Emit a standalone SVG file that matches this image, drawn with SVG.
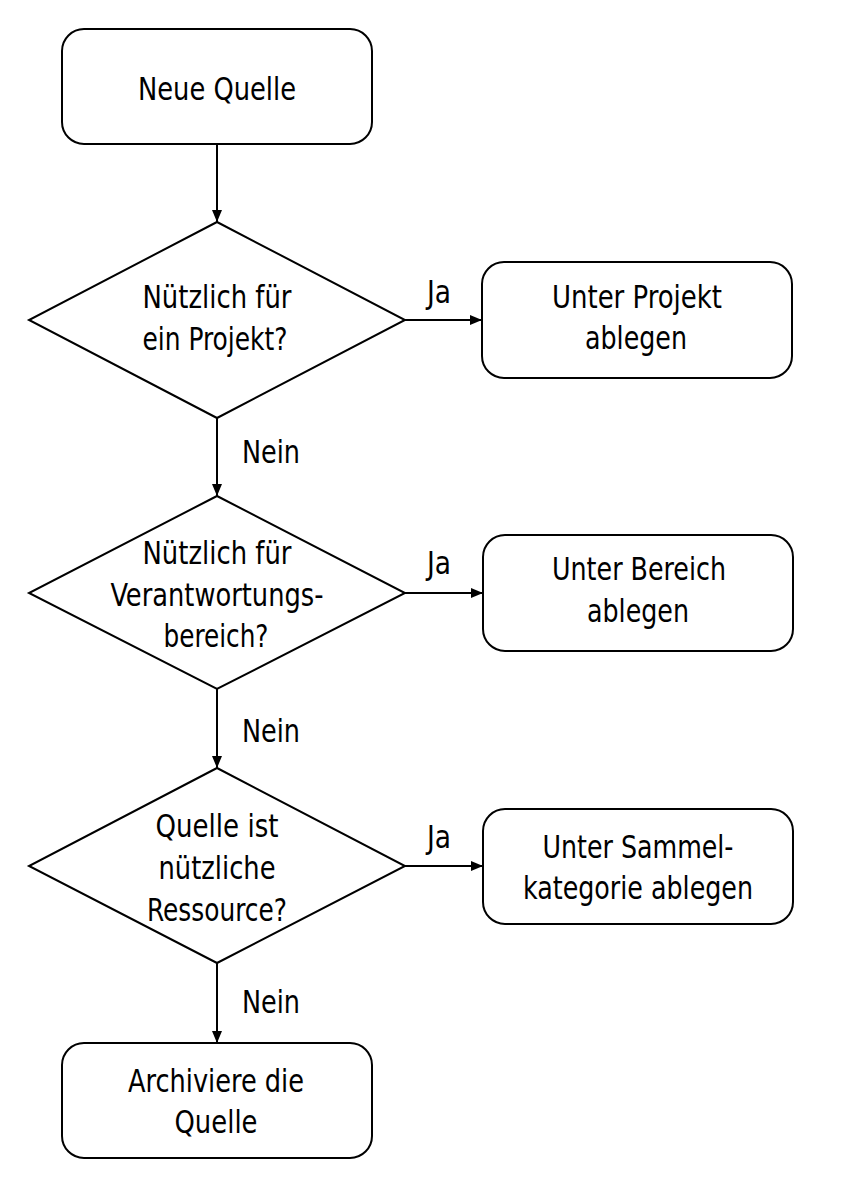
<svg xmlns="http://www.w3.org/2000/svg" width="851" height="1201" viewBox="0 0 851 1201">
<defs>
<style>
.box{fill:#fff;stroke:#000;stroke-width:2}
.t{font-family:"Liberation Sans Narrow","DejaVu Sans Condensed","Liberation Sans",sans-serif;font-size:32px;fill:#000;text-anchor:middle}
.lbl{font-family:"Liberation Sans Narrow","DejaVu Sans Condensed","Liberation Sans",sans-serif;font-size:32px;fill:#000;text-anchor:start}
.c{fill:none;stroke:#000;stroke-width:2}
</style>
<marker id="ah" viewBox="0 0 12 10" refX="12" refY="5" markerWidth="12" markerHeight="10" markerUnits="userSpaceOnUse" orient="auto">
<path d="M0,0 L12,5 L0,10 Z" fill="#000"/>
</marker>
</defs>
<rect width="851" height="1201" fill="#fff"/>
<g id="connectors">
<line class="c" x1="217" y1="144" x2="217" y2="222" marker-end="url(#ah)"/>
<line class="c" x1="405" y1="320" x2="482" y2="320" marker-end="url(#ah)"/>
<line class="c" x1="217" y1="418" x2="217" y2="496" marker-end="url(#ah)"/>
<line class="c" x1="405" y1="593" x2="483" y2="593" marker-end="url(#ah)"/>
<line class="c" x1="217" y1="689" x2="217" y2="768" marker-end="url(#ah)"/>
<line class="c" x1="405" y1="866" x2="483" y2="866" marker-end="url(#ah)"/>
<line class="c" x1="217" y1="963" x2="217" y2="1043" marker-end="url(#ah)"/>
<text class="lbl" x="427" y="303" textLength="24" lengthAdjust="spacingAndGlyphs">Ja</text>
<text class="lbl" x="427" y="574" textLength="24" lengthAdjust="spacingAndGlyphs">Ja</text>
<text class="lbl" x="427" y="848" textLength="24" lengthAdjust="spacingAndGlyphs">Ja</text>
<text class="lbl" x="242" y="463" textLength="58" lengthAdjust="spacingAndGlyphs">Nein</text>
<text class="lbl" x="242" y="742" textLength="58" lengthAdjust="spacingAndGlyphs">Nein</text>
<text class="lbl" x="242" y="1013" textLength="58" lengthAdjust="spacingAndGlyphs">Nein</text>
</g>
<g id="start">
<rect class="box" x="62" y="29" width="310" height="115" rx="22"/>
<text class="t" x="217" y="100" textLength="158" lengthAdjust="spacingAndGlyphs">Neue Quelle</text>
</g>
<g id="q1">
<polygon class="box" points="217,222 405,320 217,418 29,320"/>
<text class="t" x="217" y="308" textLength="149" lengthAdjust="spacingAndGlyphs">Nützlich für</text>
<text class="t" x="215" y="350" textLength="145" lengthAdjust="spacingAndGlyphs">ein Projekt?</text>
</g>
<g id="projekt">
<rect class="box" x="482" y="262" width="310" height="116" rx="22"/>
<text class="t" x="637" y="308" textLength="170" lengthAdjust="spacingAndGlyphs">Unter Projekt</text>
<text class="t" x="636" y="349" textLength="102" lengthAdjust="spacingAndGlyphs">ablegen</text>
</g>
<g id="q2">
<polygon class="box" points="217,496 405,593 217,689 29,593"/>
<text class="t" x="217" y="564" textLength="149" lengthAdjust="spacingAndGlyphs">Nützlich für</text>
<text class="t" x="217" y="606" textLength="213" lengthAdjust="spacingAndGlyphs">Verantwortungs-</text>
<text class="t" x="216" y="647" textLength="105" lengthAdjust="spacingAndGlyphs">bereich?</text>
</g>
<g id="bereich">
<rect class="box" x="483" y="535" width="310" height="116" rx="22"/>
<text class="t" x="639" y="580" textLength="174" lengthAdjust="spacingAndGlyphs">Unter Bereich</text>
<text class="t" x="638" y="622" textLength="102" lengthAdjust="spacingAndGlyphs">ablegen</text>
</g>
<g id="q3">
<polygon class="box" points="217,768 405,866 217,963 29,866"/>
<text class="t" x="217" y="837" textLength="123" lengthAdjust="spacingAndGlyphs">Quelle ist</text>
<text class="t" x="217" y="879" textLength="117" lengthAdjust="spacingAndGlyphs">nützliche</text>
<text class="t" x="217" y="921" textLength="140" lengthAdjust="spacingAndGlyphs">Ressource?</text>
</g>
<g id="sammel">
<rect class="box" x="483" y="809" width="310" height="115" rx="22"/>
<text class="t" x="638" y="858" textLength="191" lengthAdjust="spacingAndGlyphs">Unter Sammel-</text>
<text class="t" x="638" y="899" textLength="230" lengthAdjust="spacingAndGlyphs">kategorie ablegen</text>
</g>
<g id="archiv">
<rect class="box" x="62" y="1043" width="310" height="115" rx="22"/>
<text class="t" x="216" y="1092" textLength="176" lengthAdjust="spacingAndGlyphs">Archiviere die</text>
<text class="t" x="216" y="1133" textLength="83" lengthAdjust="spacingAndGlyphs">Quelle</text>
</g>
</svg>
